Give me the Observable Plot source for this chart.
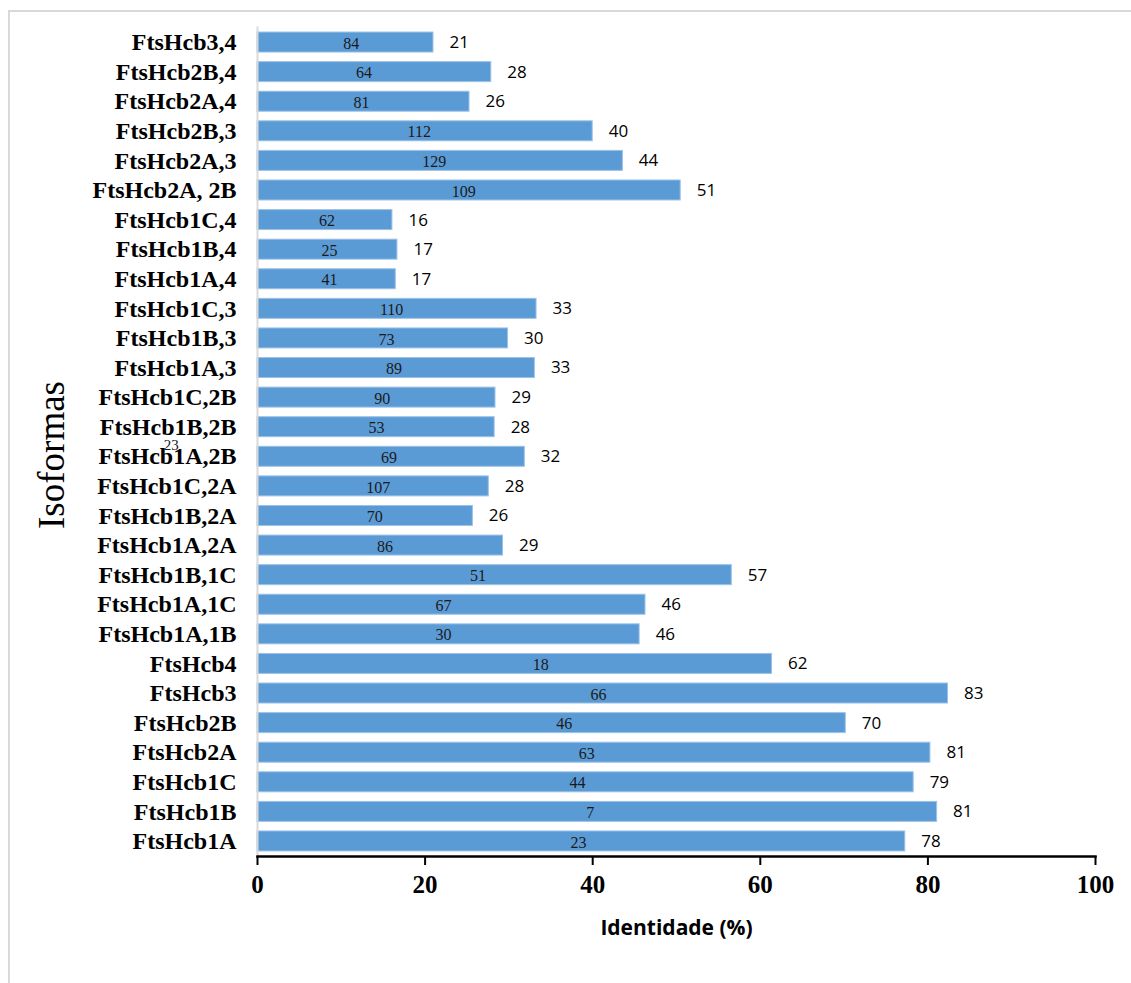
<!DOCTYPE html>
<html>
<head>
<meta charset="utf-8">
<script src="https://cdn.jsdelivr.net/npm/d3@7"></script>
<script src="https://cdn.jsdelivr.net/npm/@observablehq/plot@0.6"></script>
<style>
  html, body { margin: 0; padding: 0; background: #fff; }
  #wrap { position: relative; width: 1131px; height: 983px; overflow: hidden; }
  #border { position: absolute; left: 8px; top: 10px; width: 1130px; height: 980px;
            border-left: 2px solid #d9d9d9; border-top: 2px solid #d9d9d9; box-sizing: border-box; }
  #chart { position: absolute; left: 0; top: 0; }
</style>
</head>
<body>
<div id="wrap"><div id="border"></div><div id="chart"></div></div>
<script>
const categories = ["FtsHcb3,4","FtsHcb2B,4","FtsHcb2A,4","FtsHcb2B,3","FtsHcb2A,3","FtsHcb2A, 2B",
  "FtsHcb1C,4","FtsHcb1B,4","FtsHcb1A,4","FtsHcb1C,3","FtsHcb1B,3","FtsHcb1A,3",
  "FtsHcb1C,2B","FtsHcb1B,2B","FtsHcb1A,2B","FtsHcb1C,2A","FtsHcb1B,2A","FtsHcb1A,2A",
  "FtsHcb1B,1C","FtsHcb1A,1C","FtsHcb1A,1B","FtsHcb4","FtsHcb3","FtsHcb2B","FtsHcb2A",
  "FtsHcb1C","FtsHcb1B","FtsHcb1A"];
const identity = [21.0, 27.9, 25.3, 40.0, 43.6, 50.5, 16.1, 16.7, 16.5, 33.3, 29.9, 33.1,
  28.4, 28.3, 31.9, 27.6, 25.7, 29.3, 56.6, 46.3, 45.6, 61.4, 82.4, 70.2, 80.3, 78.3, 81.1, 77.3];
const identityLabels = [21, 28, 26, 40, 44, 51, 16, 17, 17, 33, 30, 33,
  29, 28, 32, 28, 26, 29, 57, 46, 46, 62, 83, 70, 81, 79, 81, 78];
const innerLabels = [84, 64, 81, 112, 129, 109, 62, 25, 41, 110, 73, 89,
  90, 53, 69, 107, 70, 86, 51, 67, 30, 18, 66, 46, 63, 44, 7, 23];
const innerAt = [11.2, 12.7, 12.4, 19.3, 21.1, 24.6, 8.3, 8.6, 8.6, 16.0, 15.4, 16.3,
  14.9, 14.2, 15.7, 14.4, 14.0, 15.2, 26.3, 22.2, 22.2, 33.8, 40.7, 36.6, 39.3, 38.2, 39.7, 38.3];
const xTicks = [0, 20, 40, 60, 80, 100];
const xTitle = "Identidade (%)";
const yTitle = "Isoformas";
const strayLabel = [{cat: "FtsHcb1A,2B", x: -10.3, text: "23"}];

const rows = categories.map((c, i) => ({
  cat: c, value: identity[i], label: identityLabels[i], inner: innerLabels[i], innerX: innerAt[i]
}));

const chart = Plot.plot({
  width: 1131,
  height: 983,
  marginLeft: 257,
  marginRight: 36,
  marginTop: 27,
  marginBottom: 127,
  style: {fontFamily: "Liberation Serif", background: "transparent", overflow: "visible"},
  x: {domain: [0, 100]},
  y: {type: "band", domain: categories, paddingInner: 0.324, paddingOuter: 0.17, round: false},
  marks: [
    Plot.barX(rows, {y: "cat", x: "value", fill: "#5b9bd5", stroke: "#9cc2e8", strokeWidth: 1}),
    Plot.frame({anchor: "left", stroke: "#d9d9d9", strokeWidth: 2}),
    Plot.frame({anchor: "bottom", stroke: "#000", strokeWidth: 2.5}),
    Plot.axisX({ticks: xTicks, tickSize: 9, tickPadding: 10, strokeWidth: 2, stroke: "#000",
      fontSize: 25, fontWeight: "bold", fill: "#000", label: null}),
    Plot.axisY({tickSize: 0, tickPadding: 21, fontSize: 24, fontWeight: "bold", fill: "#000", label: null}),
    Plot.text(rows, {y: "cat", x: "innerX", text: d => String(d.inner), fontSize: 16,
      fill: "#1a1a1a", dy: 1}),
    Plot.text(rows, {y: "cat", x: "value", text: d => String(d.label), textAnchor: "start", dx: 16,
      fontFamily: "Open Sans", fontSize: 17, fill: "#000"}),
    Plot.text(strayLabel, {y: "cat", x: "x", text: "text", fontSize: 15, fill: "#1a1a1a", dy: -12}),
    Plot.text([xTitle], {text: d => d, frameAnchor: "bottom", lineAnchor: "middle", dy: 72,
      fontFamily: "Open Sans", fontWeight: "bold", fontSize: 21, fill: "#000"}),
    Plot.text([yTitle], {text: d => d, frameAnchor: "left", textAnchor: "middle", lineAnchor: "middle",
      dx: -205, dy: 13, rotate: -90, fontSize: 37, fill: "#000"})
  ]
});
document.getElementById("chart").appendChild(chart);
</script>
</body>
</html>
